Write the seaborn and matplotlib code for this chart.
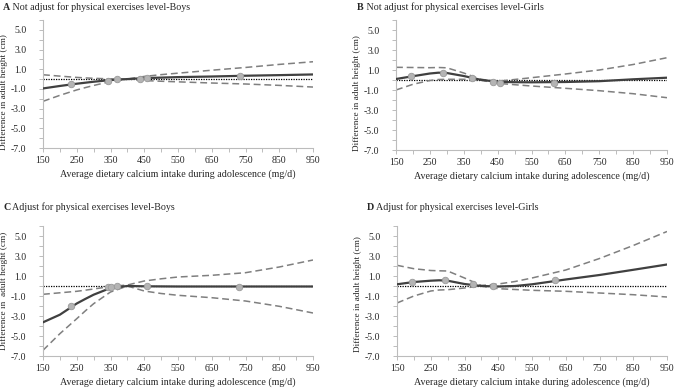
import numpy as np
import pandas as pd
import matplotlib
matplotlib.use("Agg")
import matplotlib.pyplot as plt
from matplotlib.ticker import MultipleLocator, FormatStrFormatter
import seaborn as sns

# calcium intake grid (mg/d) shared by all panels
calcium = [150, 200, 250, 275, 300, 350, 400, 450, 500, 550, 650, 750, 850, 950]

# A: not adjusted, boys
fit_a = [-0.95, -0.7, -0.47, -0.37, -0.27, -0.1, 0.0, 0.1, 0.15, 0.2, 0.26, 0.34, 0.4, 0.47]
upper_a = [0.44, 0.3, 0.17, 0.12, 0.08, 0.02, 0.0, 0.27, 0.45, 0.6, 0.9, 1.18, 1.49, 1.76]
lower_a = [-2.26, -1.65, -1.1, -0.87, -0.65, -0.25, 0.0, -0.15, -0.22, -0.28, -0.4, -0.5, -0.64, -0.81]
knots_x_a = [233, 343, 370, 437, 457, 733]
knots_y_a = [-0.5, -0.15, -0.02, 0.05, 0.12, 0.33]

# B: not adjusted, girls
fit_b = [0.1, 0.38, 0.65, 0.73, 0.7, 0.4, 0.02, -0.18, -0.22, -0.23, -0.2, -0.12, 0.07, 0.23]
upper_b = [1.27, 1.25, 1.23, 1.25, 1.22, 0.7, 0.07, -0.12, 0.05, 0.23, 0.6, 1.0, 1.55, 2.23]
lower_b = [-1.0, -0.43, -0.05, 0.05, 0.07, 0.07, -0.02, -0.33, -0.47, -0.6, -0.83, -1.07, -1.37, -1.77]
knots_x_b = [193, 290, 373, 437, 456, 617]
knots_y_b = [0.4, 0.67, 0.17, -0.15, -0.25, -0.27]

# C: adjusted, boys
fit_c = [-3.63, -2.87, -1.75, -1.3, -0.87, -0.2, 0.0, -0.03, -0.04, -0.05, -0.05, -0.05, -0.05, -0.05]
upper_c = [-0.83, -0.68, -0.53, -0.42, -0.3, -0.05, 0.1, 0.5, 0.72, 0.9, 1.07, 1.33, 1.9, 2.6]
lower_c = [-6.43, -4.77, -3.27, -2.5, -1.77, -0.6, 0.0, -0.5, -0.75, -0.93, -1.17, -1.5, -2.03, -2.7]
knots_x_c = [233, 343, 352, 368, 457, 732]
knots_y_c = [-2.03, -0.12, -0.05, 0.05, 0.02, -0.05]

# D: adjusted, girls
fit_d = [0.17, 0.4, 0.53, 0.57, 0.53, 0.2, 0.0, -0.05, 0.0, 0.17, 0.65, 1.1, 1.62, 2.15]
upper_d = [2.07, 1.73, 1.55, 1.52, 1.5, 0.8, 0.05, 0.2, 0.45, 0.8, 1.6, 2.75, 4.05, 5.45]
lower_d = [-1.7, -1.0, -0.5, -0.4, -0.37, -0.2, 0.0, -0.27, -0.35, -0.43, -0.53, -0.7, -0.87, -1.1]
knots_x_d = [195, 293, 375, 433, 619]
knots_y_d = [0.4, 0.57, 0.17, 0.0, 0.57]

x_ticks = [150, 250, 350, 450, 550, 650, 750, 850, 950]
y_ticks = [5, 3, 1, -1, -3, -5, -7]

letters = ["A", "B", "C", "D"]
titles = ["Not adjust for physical exercises level-Boys",
          "Not adjust for physical exercises level-Girls",
          "Adjust for physical exercises level-Boys",
          "Adjust for physical exercises level-Girls"]
ylabels = ["Difference in adult height (cm)", "Difference in adult height (cm)",
           "Difference in  adult height (cm)", "Difference in adult height (cm)"]
xlabel = "Average dietary calcium intake during adolescence (mg/d)"

sns.set_style("white")
plt.rcParams["font.family"] = ["Liberation Serif", "DejaVu Serif"]

fig = plt.figure(figsize=(6.75, 3.89), dpi=100)
W, H = 675, 389

# axes boxes in pixels: left, top, right, bottom
boxes = [(43, 20, 313, 148), (396, 20, 667, 150),
         (43, 226, 313, 356), (397, 226, 667, 356)]
title_pos = [(3, 7), (357, 7), (3, 207), (367, 207)]
ylabel_y = [0.44, 0.44, 0.5, 0.48]

panels = [(fit_a, upper_a, lower_a, knots_x_a, knots_y_a),
          (fit_b, upper_b, lower_b, knots_x_b, knots_y_b),
          (fit_c, upper_c, lower_c, knots_x_c, knots_y_c),
          (fit_d, upper_d, lower_d, knots_x_d, knots_y_d)]

axis_grey = "#bcbcbc"

for i, (fit, upper, lower, kx, ky) in enumerate(panels):
    l, t, r, b = boxes[i]
    ax = fig.add_axes([l / W, 1 - b / H, (r - l) / W, (b - t) / H])
    df = pd.DataFrame({"calcium": calcium, "fit": fit, "upper": upper, "lower": lower})

    ax.axhline(0, color="black", lw=0.9, ls=(0, (1, 1)), zorder=1)
    sns.lineplot(data=df, x="calcium", y="upper", ax=ax, color="#7f7f7f",
                 lw=1.1, linestyle=(0, (4.5, 2.5)), zorder=2)
    sns.lineplot(data=df, x="calcium", y="lower", ax=ax, color="#7f7f7f",
                 lw=1.1, linestyle=(0, (4.5, 2.5)), zorder=2)
    sns.lineplot(data=df, x="calcium", y="fit", ax=ax, color="#404040",
                 lw=1.6, zorder=3)
    sns.scatterplot(x=kx, y=ky, ax=ax, color="#b4b4b4", edgecolor="#9a9a9a",
                    linewidth=0.6, s=22, zorder=4)

    ax.set_xlim(150, 950)
    ax.set_ylim(-7, 6)
    ax.set_xticks(x_ticks)
    ax.xaxis.set_minor_locator(MultipleLocator(50))
    ax.set_yticks(y_ticks)
    ax.yaxis.set_minor_locator(MultipleLocator(1))
    ax.yaxis.set_major_formatter(FormatStrFormatter("%.1f"))
    for s in ["top", "right"]:
        ax.spines[s].set_visible(False)
    for s in ["left", "bottom"]:
        ax.spines[s].set_color(axis_grey)
        ax.spines[s].set_linewidth(0.8)
    ax.tick_params(which="both", direction="out", length=3, width=0.7,
                   color=axis_grey, labelsize=7)
    ax.tick_params(axis="y", which="both", pad=9, left=True)
    ax.tick_params(axis="x", which="both", pad=3, bottom=True)
    ax.set_xlabel(xlabel, fontsize=7.2, labelpad=3)
    ax.set_ylabel(ylabels[i], fontsize=6.7)
    ax.yaxis.set_label_coords(-0.128, ylabel_y[i])

    tx, ty = title_pos[i]
    t1 = fig.text(tx / W, 1 - ty / H, letters[i], fontsize=7.2,
                  fontweight="bold", va="center", ha="left")
    fig.canvas.draw()
    ax.annotate(" " + titles[i], xy=(1, 0), xycoords=t1, va="bottom",
                ha="left", fontsize=7.2)

fig.savefig("out.png", dpi=100)
